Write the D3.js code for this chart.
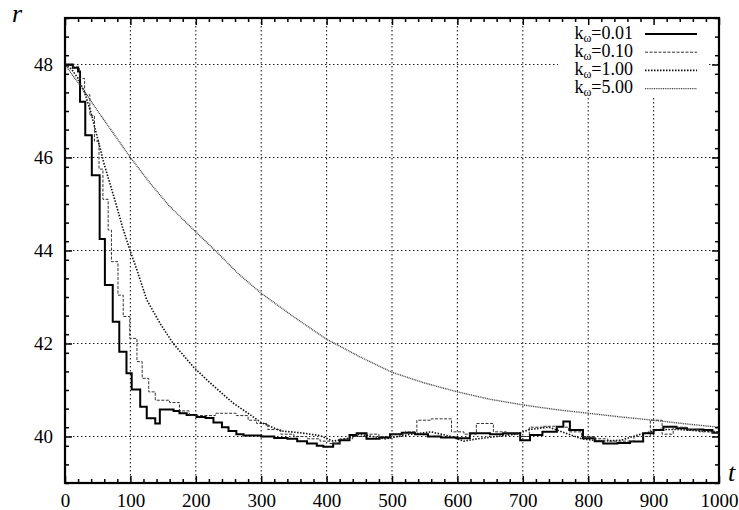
<!DOCTYPE html>
<html>
<head>
<meta charset="utf-8">
<script src="https://cdn.jsdelivr.net/npm/d3@7"></script>
<style>
  body { margin: 0; background: #fff; }
  svg { display: block; }
</style>
</head>
<body>
<svg id="chart" width="739" height="510"></svg>
<script>
// series: time t, radius r
const t001 = [0, 12, 20, 23, 31, 41, 53, 61, 73, 83, 94, 102, 115, 125, 138, 145, 166, 175, 186, 201, 215, 227, 240, 250, 262, 273, 300, 320, 340, 355, 370, 385, 395, 410, 420, 435, 446, 461, 481, 497, 515, 535, 555, 575, 599, 619, 650, 670, 696, 711, 730, 752, 762, 772, 792, 810, 823, 845, 864, 884, 900, 915, 935, 951, 976, 990, 1000];
const r001 = [48.0, 47.93, 47.85, 47.2, 46.48, 45.62, 44.25, 43.26, 42.47, 41.82, 41.36, 41.01, 40.64, 40.39, 40.28, 40.58, 40.55, 40.5, 40.46, 40.42, 40.4, 40.3, 40.2, 40.12, 40.05, 40.02, 40.0, 39.97, 39.95, 39.9, 39.85, 39.8, 39.78, 39.85, 39.92, 40.03, 40.07, 39.95, 39.98, 40.05, 40.08, 40.05, 40.0, 39.98, 39.96, 40.07, 40.05, 40.07, 39.92, 40.03, 40.1, 40.21, 40.32, 40.14, 39.96, 39.9, 39.85, 39.86, 39.89, 40.07, 40.14, 40.21, 40.18, 40.15, 40.14, 40.08, 40.03];

const t010 = [0, 12, 22, 30, 38, 45, 52, 58, 66, 71, 81, 89, 99, 110, 118, 128, 138, 160, 175, 190, 230, 262, 280, 293, 310, 330, 350, 370, 390, 405, 420, 440, 460, 480, 500, 520, 538, 560, 575, 591, 610, 629, 655, 675, 695, 710, 730, 750, 770, 790, 810, 830, 850, 870, 895, 913, 930, 950, 970, 990, 1000];
const r010 = [48.0, 47.95, 47.7, 47.35, 46.9, 46.35, 45.75, 45.1, 44.44, 43.76, 43.04, 42.58, 42.11, 41.61, 41.25, 40.96, 40.78, 40.73, 40.55, 40.45, 40.5, 40.45, 40.35, 40.28, 40.15, 40.05, 40.0, 39.95, 39.9, 39.85, 39.95, 40.0, 40.05, 40.0, 40.05, 40.1, 40.35, 40.38, 40.38, 40.1, 40.05, 40.28, 40.1, 40.05, 40.0, 40.2, 40.22, 40.2, 40.1, 40.0, 39.95, 39.9, 39.9, 40.0, 40.35, 40.05, 40.2, 40.15, 40.1, 40.08, 40.05];

const t100 = [0, 10, 20, 30, 40, 50, 60, 70, 78, 88, 99, 110, 125, 145, 165, 196, 222, 257, 285, 300, 330, 360, 390, 410, 430, 450, 470, 490, 510, 530, 560, 590, 610, 630, 660, 690, 710, 740, 760, 790, 820, 850, 880, 910, 940, 970, 1000];
const r100 = [48.0, 47.9, 47.7, 47.4, 46.95, 46.4, 45.85, 45.38, 45.0, 44.5, 44.02, 43.58, 42.94, 42.44, 42.01, 41.5, 41.15, 40.72, 40.45, 40.3, 40.12, 40.08, 40.02, 39.9, 39.95, 40.05, 40.0, 39.95, 40.0, 40.05, 40.1, 40.0, 39.9, 39.95, 40.0, 40.05, 40.15, 40.2, 40.1, 39.95, 39.9, 39.92, 40.05, 40.15, 40.15, 40.12, 40.1];

const t500 = [0, 10, 25, 50, 75, 100, 130, 160, 200, 232, 265, 300, 349, 399, 450, 500, 550, 600, 650, 700, 750, 800, 850, 900, 950, 1000];
const r500 = [48.0, 47.8, 47.52, 47.0, 46.5, 46.0, 45.45, 44.95, 44.4, 43.97, 43.5, 43.08, 42.58, 42.1, 41.72, 41.38, 41.15, 40.96, 40.8, 40.68, 40.58, 40.5, 40.42, 40.35, 40.27, 40.2];

const legendLabels = ["0.01", "0.10", "1.00", "5.00"];
const xMajor = [0, 100, 200, 300, 400, 500, 600, 700, 800, 900, 1000];
const yMajor = [40, 42, 44, 46, 48];

const svg = d3.select("#chart");
const margin = { left: 65, right: 719, top: 18, bottom: 483 };
const font = "'Liberation Serif', 'DejaVu Serif', serif";

const x = d3.scaleLinear().domain([0, 1000]).range([margin.left, margin.right]);
const y = d3.scaleLinear().domain([39, 49]).range([margin.bottom, margin.top]);

// grid
const grid = svg.append("g")
    .attr("stroke", "#222")
    .attr("stroke-width", 1.1)
    .attr("stroke-dasharray", "1.5,2.5");
grid.selectAll(".gx")
    .data(xMajor.slice(1, -1))
    .join("line")
    .attr("x1", d => x(d)).attr("x2", d => x(d))
    .attr("y1", margin.top).attr("y2", margin.bottom);
grid.selectAll(".gy")
    .data(yMajor)
    .join("line")
    .attr("x1", margin.left).attr("x2", margin.right)
    .attr("y1", d => y(d)).attr("y2", d => y(d));

// legend background hides the grid like gnuplot does
svg.append("rect")
    .attr("x", 558).attr("y", 19)
    .attr("width", 150).attr("height", 79)
    .attr("fill", "#fff");

const series = [
    { t: t001, r: r001, curve: d3.curveStepAfter, color: "#000", width: 2, dash: null },
    { t: t010, r: r010, curve: d3.curveStepAfter, color: "#333", width: 1, dash: "3,1.5" },
    { t: t100, r: r100, curve: d3.curveLinear, color: "#111", width: 1.6, dash: "1.5,1.5" },
    { t: t500, r: r500, curve: d3.curveLinear, color: "#444", width: 1.4, dash: "1,0.8" }
];

const line = d3.line()
    .x(d => x(d[0]))
    .y(d => y(d[1]));

series.forEach(s => {
    svg.append("path")
        .datum(d3.zip(s.t, s.r))
        .attr("fill", "none")
        .attr("stroke", s.color)
        .attr("stroke-width", s.width)
        .attr("stroke-dasharray", s.dash)
        .attr("d", line.curve(s.curve));
});

// axes, ticks point inward on all four sides
function styleAxis(g) {
    g.attr("font-family", font).attr("font-size", 19);
    g.select(".domain").remove();
    g.selectAll(".tick line").attr("stroke", "#000").attr("stroke-width", 1.5);
    g.selectAll("text").attr("fill", "#000");
}
const xMinor = d3.range(0, 1001, 20).filter(d => d % 100);
const yMinor = d3.range(39, 49.01, 0.4).filter(d => Math.abs(d - Math.round(d / 2) * 2) > 0.01);

svg.append("g")
    .attr("transform", `translate(0,${margin.bottom})`)
    .call(d3.axisBottom(x).tickValues(xMajor).tickSize(-7).tickPadding(11).tickFormat(d3.format("d")))
    .call(styleAxis);
svg.append("g")
    .attr("transform", `translate(0,${margin.bottom})`)
    .call(d3.axisBottom(x).tickValues(xMinor).tickSize(-4).tickFormat(""))
    .call(styleAxis);
svg.append("g")
    .attr("transform", `translate(0,${margin.top})`)
    .call(d3.axisTop(x).tickValues(xMajor).tickSize(-7).tickFormat(""))
    .call(styleAxis);
svg.append("g")
    .attr("transform", `translate(0,${margin.top})`)
    .call(d3.axisTop(x).tickValues(xMinor).tickSize(-4).tickFormat(""))
    .call(styleAxis);

svg.append("g")
    .attr("transform", `translate(${margin.left},0)`)
    .call(d3.axisLeft(y).tickValues(yMajor).tickSize(-7).tickPadding(12))
    .call(styleAxis);
svg.append("g")
    .attr("transform", `translate(${margin.left},0)`)
    .call(d3.axisLeft(y).tickValues(yMinor).tickSize(-4).tickFormat(""))
    .call(styleAxis);
svg.append("g")
    .attr("transform", `translate(${margin.right},0)`)
    .call(d3.axisRight(y).tickValues(yMajor).tickSize(-7).tickFormat(""))
    .call(styleAxis);
svg.append("g")
    .attr("transform", `translate(${margin.right},0)`)
    .call(d3.axisRight(y).tickValues(yMinor).tickSize(-4).tickFormat(""))
    .call(styleAxis);

// frame
svg.append("rect")
    .attr("x", margin.left).attr("y", margin.top)
    .attr("width", margin.right - margin.left).attr("height", margin.bottom - margin.top)
    .attr("fill", "none")
    .attr("stroke", "#000")
    .attr("stroke-width", 2.2);

// axis names
svg.append("text")
    .attr("x", 12).attr("y", 22)
    .attr("font-family", font).attr("font-style", "italic").attr("font-size", 26)
    .text("r");
svg.append("text")
    .attr("x", 728).attr("y", 481)
    .attr("font-family", font).attr("font-style", "italic").attr("font-size", 26)
    .text("t");

// legend
const legend = svg.append("g");
legendLabels.forEach((lab, i) => {
    const base = 38.5 + i * 18.2;
    const txt = legend.append("text")
        .attr("x", 633).attr("y", base)
        .attr("text-anchor", "end")
        .attr("font-family", font).attr("font-size", 18);
    txt.append("tspan").text("k");
    txt.append("tspan").attr("font-size", 12).attr("dy", 3).text("ω");
    txt.append("tspan").attr("dy", -3).text("=" + lab);

    const s = series[i];
    legend.append("line")
        .attr("x1", 645).attr("x2", 697)
        .attr("y1", base - 4.5).attr("y2", base - 4.5)
        .attr("stroke", s.color)
        .attr("stroke-width", s.width)
        .attr("stroke-dasharray", s.dash);
});
</script>
</body>
</html>
